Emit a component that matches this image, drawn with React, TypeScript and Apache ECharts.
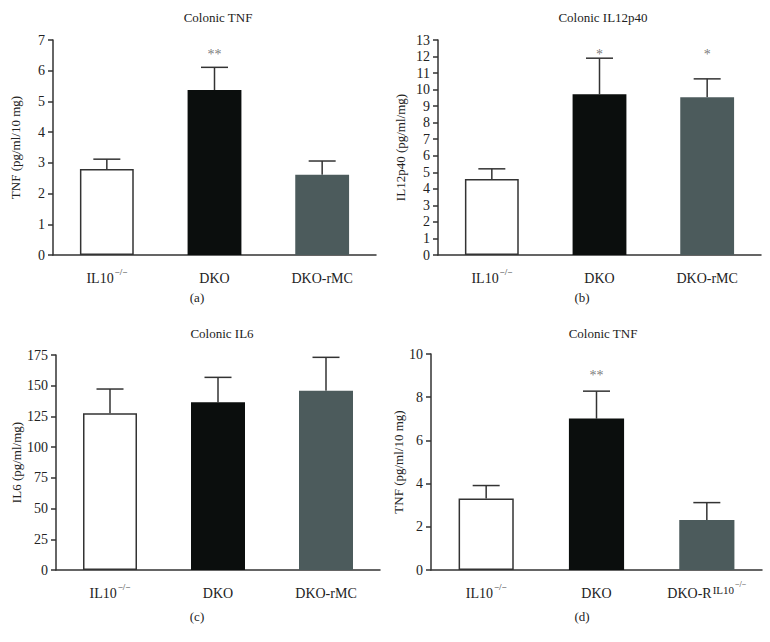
import React, { useEffect, useRef } from "react";
import * as echarts from "echarts";

const catsABC = ["IL10KO", "DKO", "DKO-rMC"];
const catsD = ["IL10KO", "DKO", "DKO-R"];

const tnfA = [2.8, 5.37, 2.61];
const tnfAErr = [0.32, 0.74, 0.45];
const tnfAStars = ["", "**", ""];

const il12 = [4.59, 9.72, 9.54];
const il12Err = [0.62, 2.18, 1.11];
const il12Stars = ["", "*", "*"];

const il6 = [127.5, 136.5, 146];
const il6Err = [19.8, 20.3, 27.1];
const il6Stars = ["", "", ""];

const tnfD = [3.31, 7.01, 2.32];
const tnfDErr = [0.6, 1.27, 0.8];
const tnfDStars = ["", "**", ""];

const titles = ["Colonic TNF", "Colonic IL12p40", "Colonic IL6", "Colonic TNF"];
const yNames = ["TNF (pg/ml/10 mg)", "IL12p40 (pg/ml/mg)", "IL6 (pg/ml/mg)", "TNF (pg/ml/10 mg)"];
const yMax = [7, 13, 175, 10];
const yInterval = [1, 1, 25, 2];
const panelLetters = ["(a)", "(b)", "(c)", "(d)"];

const FONT = "'Liberation Serif', 'DejaVu Serif', serif";
const AXIS = "#333";
const barColors = ["#ffffff", "#0b0e0d", "#4c5b5c"];

export default function App() {
  const ref = useRef<HTMLDivElement>(null);
  useEffect(() => {
    if (!ref.current) return;
    const chart = echarts.init(ref.current, null, { renderer: "svg" });

    const grids = [
      { left: 53, top: 40, width: 323, height: 215 },
      { left: 438, top: 40, width: 323, height: 215 },
      { left: 56, top: 355, width: 324, height: 215 },
      { left: 431, top: 354, width: 331, height: 216 },
    ];
    const nameGaps = [31, 31, 33, 22];
    const titlePos = [
      [213, 6],
      [598, 6],
      [217, 322],
      [598, 322],
    ];
    const letterPos = [
      [197, 297],
      [582, 297],
      [197, 616],
      [582, 616],
    ];
    const starY = [6.54, 12.1, 0, 9.0];

    const values = [tnfA, il12, il6, tnfD];
    const errs = [tnfAErr, il12Err, il6Err, tnfDErr];
    const stars = [tnfAStars, il12Stars, il6Stars, tnfDStars];
    const cats = [catsABC, catsABC, catsABC, catsD];

    const labelFormatter = (v: string) => {
      if (v === "IL10KO") return "{b|IL10}{s|−/−}";
      if (v === "DKO-R") return "{b|DKO-R}{s1|IL10}{s2|−/−}";
      return "{b|" + v + "}";
    };

    const xAxis = grids.map((_, i) => ({
      type: "category",
      gridIndex: i,
      data: cats[i],
      boundaryGap: true,
      axisLine: { lineStyle: { color: AXIS, width: 1.5 } },
      axisTick: { alignWithLabel: true, length: 6, lineStyle: { color: AXIS, width: 1.5 } },
      axisLabel: {
        interval: 0,
        margin: 12,
        formatter: labelFormatter,
        rich: {
          b: { fontFamily: FONT, fontSize: 14, color: "#222", lineHeight: 18, verticalAlign: "bottom" },
          s: { fontFamily: FONT, fontSize: 9, color: "#222", verticalAlign: "top", padding: [0, 0, 0, 1] },
          s1: { fontFamily: FONT, fontSize: 11, color: "#222", verticalAlign: "top", padding: [2, 0, 0, 1] },
          s2: { fontFamily: FONT, fontSize: 8, color: "#222", verticalAlign: "top", padding: [-2, 0, 0, 1] },
        },
      },
      splitLine: { show: false },
    }));

    const yAxis = grids.map((_, i) => ({
      type: "value",
      gridIndex: i,
      min: 0,
      max: yMax[i],
      interval: yInterval[i],
      name: yNames[i],
      nameLocation: "middle",
      nameGap: nameGaps[i],
      nameTextStyle: { fontFamily: FONT, fontSize: 13, color: "#222" },
      axisLine: { show: true, lineStyle: { color: AXIS, width: 1.5 } },
      axisTick: { show: true, length: 5, lineStyle: { color: AXIS, width: 1.5 } },
      axisLabel: { fontFamily: FONT, fontSize: 14, color: "#222", margin: 8 },
      splitLine: { show: false },
    }));

    const series: any[] = [];
    grids.forEach((_, i) => {
      series.push({
        type: "bar",
        xAxisIndex: i,
        yAxisIndex: i,
        barWidth: "50%",
        data: values[i].map((v, j) => ({
          value: v,
          itemStyle: {
            color: barColors[j],
            borderColor: j === 0 ? "#333" : barColors[j],
            borderWidth: j === 0 ? 1.5 : 0,
          },
        })),
        z: 3,
      });
      series.push({
        type: "custom",
        xAxisIndex: i,
        yAxisIndex: i,
        z: 2,
        data: values[i].map((v, j) => [j, v, v + errs[i][j]]),
        renderItem: (params: any, api: any) => {
          const base = api.coord([api.value(0), api.value(1)]);
          const top = api.coord([api.value(0), api.value(2)]);
          const half = 13.5;
          const style = { stroke: "#333", lineWidth: 1.5 };
          return {
            type: "group",
            children: [
              { type: "line", shape: { x1: base[0], y1: base[1], x2: top[0], y2: top[1] }, style },
              { type: "line", shape: { x1: top[0] - half, y1: top[1], x2: top[0] + half, y2: top[1] }, style },
            ],
          };
        },
      });
      series.push({
        type: "scatter",
        xAxisIndex: i,
        yAxisIndex: i,
        symbolSize: 0,
        data: stars[i].map((s, j) => ({ value: [j, starY[i]], label: { show: s !== "", formatter: s } })),
        label: {
          show: true,
          position: "inside",
          fontFamily: FONT,
          fontSize: 14,
          color: "#555",
        },
      });
    });

    const title = titles.map((t, i) => ({
      text: t,
      left: titlePos[i][0],
      top: titlePos[i][1],
      textAlign: "center",
      textStyle: { fontFamily: FONT, fontSize: 13, fontWeight: "normal", color: "#222" },
    }));

    const graphic = panelLetters.map((l, i) => ({
      type: "text",
      x: letterPos[i][0],
      y: letterPos[i][1],
      style: {
        text: l,
        fontFamily: FONT,
        fontSize: 13,
        fill: "#222",
        textAlign: "center",
        textVerticalAlign: "middle",
      },
    }));

    chart.setOption({
      animation: false,
      backgroundColor: "#fff",
      title,
      grid: grids,
      xAxis,
      yAxis,
      series,
      graphic,
    });
    return () => chart.dispose();
  }, []);
  return (
    <div
      ref={ref}
      style={{ position: "fixed", left: 0, top: 0, width: 770, height: 642, background: "#fff" }}
    />
  );
}
